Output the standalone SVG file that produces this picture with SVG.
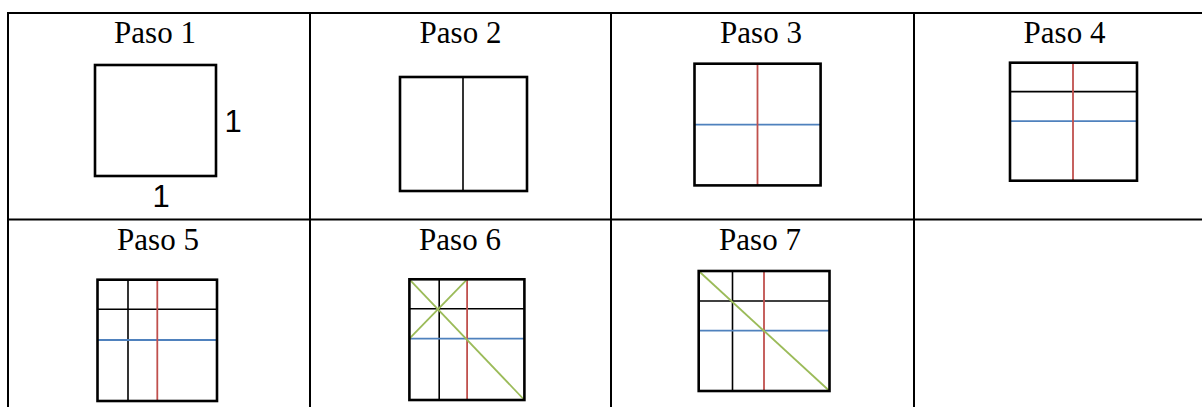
<svg xmlns="http://www.w3.org/2000/svg" width="1202" height="407" viewBox="0 0 1202 407">
<style>
.grid{stroke:#000;stroke-width:2;fill:none}
.sq{stroke:#000;stroke-width:2.6;fill:none}
.in{stroke:#000;stroke-width:1.6}
.red{stroke:#c0504d;stroke-width:1.8}
.blue{stroke:#4f81bd;stroke-width:1.8}
.green{stroke:#9bbb59;stroke-width:1.8}
.t{font-family:"Liberation Serif","Times New Roman",serif;font-size:31px;fill:#000;text-anchor:middle}
.n{font-family:"Liberation Sans",Arial,sans-serif;font-size:31px;fill:#000;text-anchor:middle}
</style>
<rect width="1202" height="407" fill="#fff"/>
<g id="table">
<line class="grid" x1="7" y1="13" x2="1202" y2="13"/>
<line class="grid" x1="7" y1="219.5" x2="1202" y2="219.5"/>
<line class="grid" x1="8" y1="12" x2="8" y2="407"/>
<line class="grid" x1="310" y1="13" x2="310" y2="407"/>
<line class="grid" x1="611" y1="13" x2="611" y2="407"/>
<line class="grid" x1="914" y1="13" x2="914" y2="407"/>
</g>
<g id="paso1">
<text class="t" x="155" y="43">Paso 1</text>
<rect class="sq" x="95" y="65" width="121" height="111"/>
<text class="n" x="233" y="132">1</text>
<text class="n" x="161" y="207">1</text>
</g>
<g id="paso2">
<text class="t" x="460.5" y="43">Paso 2</text>
<line class="in" x1="463" y1="77" x2="463" y2="191"/>
<rect class="sq" x="400" y="77" width="127" height="114"/>
</g>
<g id="paso3">
<text class="t" x="761" y="43">Paso 3</text>
<line class="blue" x1="694.5" y1="124.6" x2="820.6" y2="124.6"/>
<line class="red" x1="757.5" y1="63.7" x2="757.5" y2="185.4"/>
<rect class="sq" x="694.5" y="63.7" width="126.1" height="121.7"/>
</g>
<g id="paso4">
<text class="t" x="1064.5" y="43">Paso 4</text>
<line class="in" x1="1010" y1="91.6" x2="1137" y2="91.6"/>
<line class="blue" x1="1010" y1="121.2" x2="1137" y2="121.2"/>
<line class="red" x1="1073" y1="62.7" x2="1073" y2="180.7"/>
<rect class="sq" x="1010" y="62.7" width="127" height="118"/>
</g>
<g id="paso5">
<text class="t" x="158" y="250">Paso 5</text>
<line class="in" x1="128" y1="279.7" x2="128" y2="401"/>
<line class="in" x1="97.5" y1="309.3" x2="217" y2="309.3"/>
<line class="blue" x1="97.5" y1="340" x2="217" y2="340"/>
<line class="red" x1="157.3" y1="279.7" x2="157.3" y2="401"/>
<rect class="sq" x="97.5" y="279.7" width="119.5" height="121.3"/>
</g>
<g id="paso6">
<text class="t" x="460" y="250">Paso 6</text>
<line class="in" x1="439.2" y1="279.3" x2="439.2" y2="400"/>
<line class="in" x1="409.4" y1="308.7" x2="524.4" y2="308.7"/>
<line class="blue" x1="409.4" y1="338.7" x2="524.4" y2="338.7"/>
<line class="red" x1="467.1" y1="279.3" x2="467.1" y2="400"/>
<line class="green" x1="409.4" y1="279.3" x2="524.4" y2="400"/>
<line class="green" x1="467.1" y1="279.3" x2="409.4" y2="338.7"/>
<rect class="sq" x="409.4" y="279.3" width="115" height="120.7"/>
</g>
<g id="paso7">
<text class="t" x="760" y="250">Paso 7</text>
<line class="in" x1="732.5" y1="271" x2="732.5" y2="391"/>
<line class="in" x1="698.7" y1="301" x2="829.5" y2="301"/>
<line class="blue" x1="698.7" y1="330.7" x2="829.5" y2="330.7"/>
<line class="red" x1="764" y1="271" x2="764" y2="391"/>
<line class="green" x1="698.7" y1="271" x2="829.5" y2="391"/>
<rect class="sq" x="698.7" y="271" width="130.8" height="120"/>
</g>
</svg>
